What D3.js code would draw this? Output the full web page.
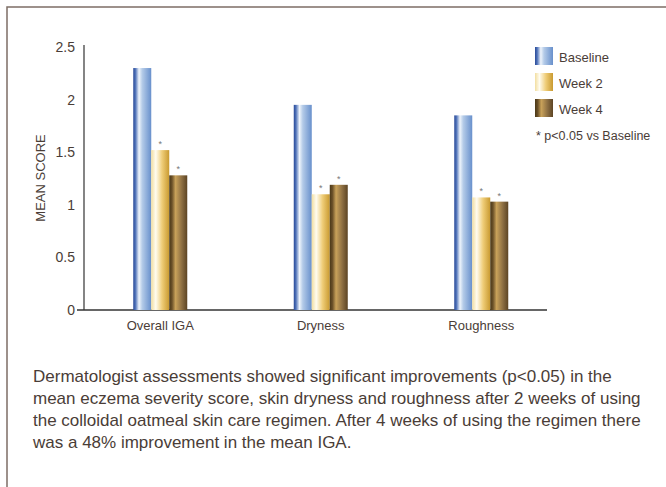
<!DOCTYPE html>
<html>
<head>
<meta charset="utf-8">
<script src="https://cdn.jsdelivr.net/npm/d3@7"></script>
<style>
  body { margin: 0; background: #fff; }
  svg text { font-family: "Liberation Sans", sans-serif; fill: #4a3d37; }
</style>
</head>
<body>
<svg id="chart"></svg>
<script>
var categories = ["Overall IGA", "Dryness", "Roughness"];
var series = ["Baseline", "Week 2", "Week 4"];
var baseline = [2.30, 1.95, 1.85];
var week2 = [1.52, 1.10, 1.07];
var week4 = [1.28, 1.19, 1.03];
var yTicks = [0, 0.5, 1, 1.5, 2, 2.5];
var note = "* p<0.05 vs Baseline";
var caption = [
  "Dermatologist assessments showed significant improvements (p<0.05) in the",
  "mean eczema severity score, skin dryness and roughness after 2 weeks of using",
  "the colloidal oatmeal skin care regimen. After 4 weeks of using the regimen there",
  "was a 48% improvement in the mean IGA."
];

var width = 666, height = 487;
var values = [baseline, week2, week4];

var svg = d3.select("#chart")
    .attr("width", width)
    .attr("height", height);

// bar gradients
var grads = [
  [[0, "#2a4a98"], [0.12, "#4f72b8"], [0.32, "#eef4fb"], [0.5, "#b4cbe8"], [1, "#6890cc"]],
  [[0, "#f2dea0"], [0.25, "#fffcf0"], [0.6, "#efcd78"], [1, "#c99a30"]],
  [[0, "#4a3818"], [0.15, "#6a5028"], [0.35, "#c9a25a"], [0.7, "#8c6e42"], [1, "#5c4424"]]
];
var defs = svg.append("defs");
grads.forEach(function(stops, i) {
  var lg = defs.append("linearGradient")
      .attr("id", "g" + i)
      .attr("x1", 0).attr("x2", 1).attr("y1", 0).attr("y2", 0);
  lg.selectAll("stop").data(stops).enter().append("stop")
      .attr("offset", function(d) { return d[0]; })
      .attr("stop-color", function(d) { return d[1]; });
});

// frame
svg.append("rect")
    .attr("x", 7).attr("y", 7)
    .attr("width", 700).attr("height", 520)
    .attr("fill", "none")
    .attr("stroke", "#7d6e66")
    .attr("stroke-width", 1.5);

var y = d3.scaleLinear().domain([0, 2.5]).range([310, 47]);
var x0 = d3.scaleBand().domain(categories).range([80, 561.5]).padding(0);
var x1 = d3.scaleBand().domain(series).range([0, 54]);

// axes
svg.append("line")
    .attr("x1", 84).attr("x2", 84)
    .attr("y1", y(2.5) - 2).attr("y2", y(0))
    .attr("stroke", "#333").attr("stroke-width", 1.2);
svg.append("line")
    .attr("x1", 77).attr("x2", 547)
    .attr("y1", y(0)).attr("y2", y(0))
    .attr("stroke", "#333").attr("stroke-width", 1.5);

svg.selectAll(".ytick")
    .data(yTicks)
    .enter().append("text")
    .attr("class", "ytick")
    .attr("x", 75)
    .attr("y", function(d) { return y(d) + 5; })
    .attr("text-anchor", "end")
    .style("font-size", "14px")
    .text(function(d) { return d; });

svg.append("text")
    .attr("transform", "translate(45,178) rotate(-90)")
    .attr("text-anchor", "middle")
    .style("font-size", "13px")
    .text("MEAN SCORE");

svg.selectAll(".xlab")
    .data(categories)
    .enter().append("text")
    .attr("class", "xlab")
    .attr("x", function(d) { return x0(d) + x0.bandwidth() / 2; })
    .attr("y", 330)
    .attr("text-anchor", "middle")
    .style("font-size", "13px")
    .text(function(d) { return d; });

// bars
var groups = svg.selectAll(".grp")
    .data(categories)
    .enter().append("g")
    .attr("class", "grp")
    .attr("transform", function(d) { return "translate(" + (x0(d) + x0.bandwidth() / 2 - 27) + ",0)"; });

groups.selectAll("rect")
    .data(function(d, ci) { return series.map(function(s, si) { return {s: s, si: si, v: values[si][ci]}; }); })
    .enter().append("rect")
    .attr("x", function(d) { return x1(d.s); })
    .attr("width", x1.bandwidth())
    .attr("y", function(d) { return y(d.v); })
    .attr("height", function(d) { return y(0) - y(d.v); })
    .attr("fill", function(d) { return "url(#g" + d.si + ")"; });

groups.selectAll(".star")
    .data(function(d, ci) { return series.slice(1).map(function(s, si) { return {s: s, v: values[si + 1][ci]}; }); })
    .enter().append("text")
    .attr("class", "star")
    .attr("x", function(d) { return x1(d.s) + x1.bandwidth() / 2; })
    .attr("y", function(d) { return y(d.v) - 3; })
    .attr("text-anchor", "middle")
    .style("font-size", "9px")
    .style("fill", "#777")
    .text("*");

// legend
var legend = svg.selectAll(".leg")
    .data(series)
    .enter().append("g")
    .attr("class", "leg")
    .attr("transform", function(d, i) { return "translate(535," + (47 + i * 26) + ")"; });
legend.append("rect")
    .attr("width", 18).attr("height", 18)
    .attr("fill", function(d, i) { return "url(#g" + i + ")"; });
legend.append("text")
    .attr("x", 24).attr("y", 15)
    .style("font-size", "13px")
    .text(function(d) { return d; });
svg.append("text")
    .attr("x", 536).attr("y", 140)
    .style("font-size", "12.5px")
    .text(note);

// caption
svg.selectAll(".cap")
    .data(caption)
    .enter().append("text")
    .attr("class", "cap")
    .attr("x", 33)
    .attr("y", function(d, i) { return 382 + i * 22; })
    .style("font-size", "17px")
    .text(function(d) { return d; });
</script>
</body>
</html>
